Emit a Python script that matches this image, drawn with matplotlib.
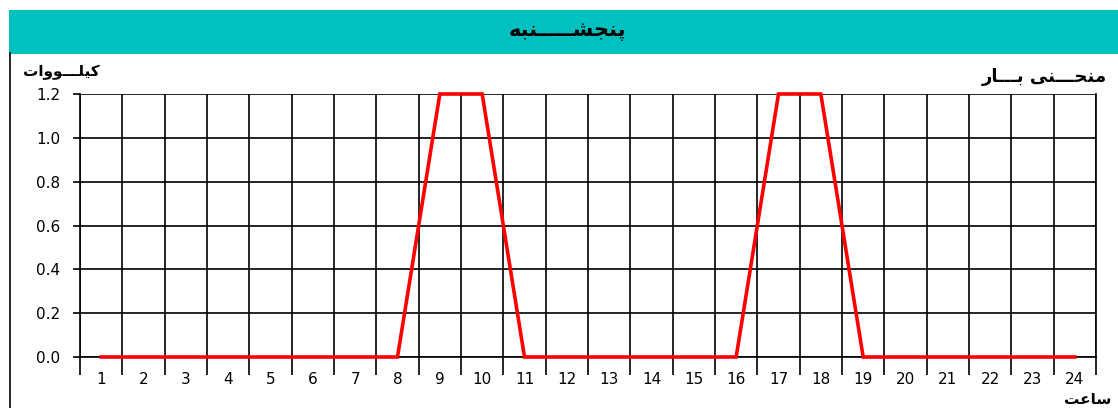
import numpy as np
import matplotlib.pyplot as plt
from matplotlib.patches import Rectangle
from matplotlib.lines import Line2D

# hourly load (kW) for the day
hours = list(range(1, 25))
load = [0.0, 0.0, 0.0, 0.0, 0.0, 0.0, 0.0, 0.0, 1.2, 1.2, 0.0, 0.0,
        0.0, 0.0, 0.0, 0.0, 1.2, 1.2, 0.0, 0.0, 0.0, 0.0, 0.0, 0.0]
yticks = [0.0, 0.2, 0.4, 0.6, 0.8, 1.0, 1.2]

# persian labels, already in joined (presentation) forms, logical order;
# reversed when drawn because matplotlib has no bidi layout
title_txt = '\uFB58\uFEE8\uFEA0\uFEB8\u0640\u0640\u0640\u0640\u0640\uFEE8\uFE92\uFEEA'   # پنجشـــــنبه
ylab_txt = '\uFB90\uFBFF\uFEE0\u0640\u0640\u0640\uFEEE\uFEED\uFE8D\uFE95'                # کیلـــووات
curve_txt = '\uFEE3\uFEE8\uFEA4\u0640\u0640\u0640\uFEE8\uFBFD \uFE91\u0640\u0640\u0640\uFE8E\uFEAD'  # منحـــنی بـــار
xlab_txt = '\uFEB3\uFE8E\uFECB\uFE96'                                                    # ساعت


def vis(s):
    return s[::-1]


W, H = 1118, 408
fig = plt.figure(figsize=(W / 100, H / 100), dpi=100)

# header band
fig.patches.append(Rectangle((9 / W, 1 - 54 / H), 1 - 9 / W, 44 / H,
                             transform=fig.transFigure, facecolor='#00C0C0',
                             edgecolor='none', zorder=0))
fig.lines.append(Line2D([9.5 / W, 9.5 / W], [0, 1 - 53 / H], transform=fig.transFigure,
                        color='black', lw=1.2))
fig.text(567 / W, 1 - 31 / H, vis(title_txt), ha='center', va='center',
         fontsize=15, fontweight='bold', family='DejaVu Sans')

ax = fig.add_axes([80 / W, 1 - 357 / H, 1016 / W, 263 / H])
ax.plot(hours, load, color='#FF0000', lw=2.6, solid_joinstyle='miter', zorder=3, clip_on=False)

ax.set_xlim(0.5, 24.5)
ax.set_ylim(0, 1.2)
ax.set_yticks(yticks)
ax.set_yticklabels(['%.1f' % v for v in yticks])
ax.set_xticks(hours)
ax.set_xticks(np.arange(0.5, 25, 1.0), minor=True)

ax.tick_params(axis='x', which='major', length=0, pad=11, labelsize=11)
ax.tick_params(axis='x', which='minor', length=13, width=1.2, color='black', direction='out')
ax.tick_params(axis='y', length=5, width=1.2, pad=9, labelsize=11)

ax.grid(True, which='minor', axis='x', color='black', lw=1.2)
ax.grid(True, which='major', axis='y', color='black', lw=1.2)
for s in ax.spines.values():
    s.set_linewidth(1.2)
ax.spines['top'].set_visible(False)

fig.text(61 / W, 1 - 72 / H, vis(ylab_txt), ha='center', va='center',
         fontsize=11, fontweight='bold')
fig.text(1107 / W, 1 - 77 / H, vis(curve_txt), ha='right', va='center',
         fontsize=13, fontweight='bold')
fig.text(1064 / W, 1 - 399 / H, vis(xlab_txt), ha='left', va='center',
         fontsize=11, fontweight='bold')

fig.savefig('out.png', dpi=100)
